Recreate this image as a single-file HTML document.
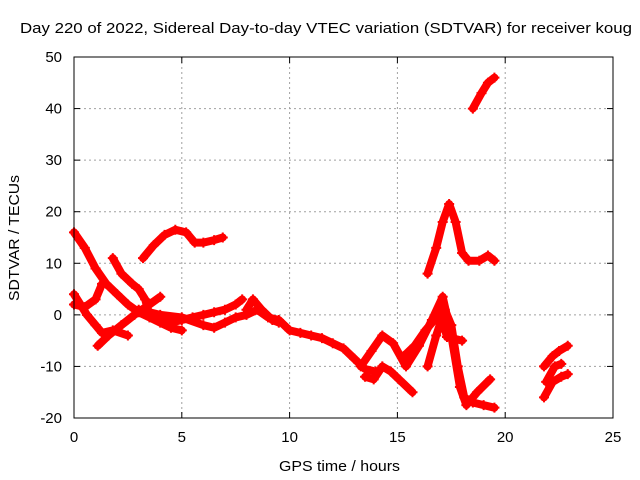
<!DOCTYPE html>
<html><head><meta charset="utf-8"><style>
body{margin:0;background:#fff}
svg{display:block;font-family:"Liberation Sans",sans-serif;font-size:15px}
</style></head><body>
<svg id="c" width="640" height="480">
<text x="20" y="33" textLength="612" lengthAdjust="spacingAndGlyphs">Day 220 of 2022, Sidereal Day-to-day VTEC variation (SDTVAR) for receiver koug</text>
<text transform="translate(19,238) rotate(-90)" text-anchor="middle" textLength="126" lengthAdjust="spacingAndGlyphs">SDTVAR / TECUs</text>
<text x="279" y="471" textLength="121" lengthAdjust="spacingAndGlyphs">GPS time / hours</text>
<g id="grid"></g><g id="marks"></g><g id="axes"></g>
</svg>
<script>
const xTicks=[0,5,10,15,20,25];
const yTicks=[-20,-10,0,10,20,30,40,50];
const trackA=[[0,16],[0.5,13],[1,9],[1.5,6],[2,4],[2.5,2],[3,0.5],[3.5,-0.5],[4,-1.5],[4.5,-2.5],[5,-3]];
const trackB=[[0,4],[0.3,2],[0.6,0],[1,-2],[1.3,-3.5],[1.8,-3],[2.5,-4]];
const trackC=[[0,2],[0.5,1.5],[1,3],[1.3,6]];
const trackD=[[1.1,-6],[1.6,-4],[2.2,-2],[2.8,0],[3.5,2],[4,3.5]];
const trackE=[[1.8,11],[2.2,8],[2.7,6],[3,5],[3.3,3],[3.5,0],[4,-1],[4.5,-1.5],[5,-1],[5.5,-0.5],[6,0],[6.5,0.5],[7,1],[7.5,2],[7.8,3]];
const trackF=[[3,1],[4,0],[5,-0.5],[6,-2],[6.5,-2.5],[7,-1.5],[7.5,-0.5],[8,0],[8.5,1],[9,-0.5],[9.5,-1],[10,-3],[10.5,-3.5],[11,-4],[11.5,-4.5],[12,-5.5],[12.5,-6.5],[13,-8.5],[13.5,-10.5],[14,-11]];
const trackG=[[8,1],[8.3,3],[8.7,1],[9.2,-1],[9.5,-1.5]];
const trackH=[[3.2,11],[3.7,13.5],[4.2,15.5],[4.7,16.5],[5.2,16],[5.6,14],[6,14],[6.5,14.5],[6.9,15]];
const trackI=[[13.3,-10],[13.8,-7],[14.3,-4],[14.8,-5.5],[15.4,-10],[16,-6],[16.6,-1],[17.1,3.5],[17.5,-4],[17.9,-14],[18.2,-17.5],[18.7,-15],[19.3,-12.5]];
const trackJ=[[13.5,-12],[13.9,-12.5],[14.3,-10],[14.7,-11],[15.1,-12.6],[15.7,-15]];
const trackK=[[15.3,-8],[15.8,-6],[16.3,-3],[17,0.4],[17.3,-4.3],[18,-5]];
const trackL=[[16.4,-10],[16.8,-4],[17.2,1],[17.5,-2],[17.8,-10],[18.1,-16],[18.5,-17],[19,-17.5],[19.5,-18]];
const trackM=[[16.4,8],[16.8,13],[17.1,18],[17.4,21.5],[17.7,18],[18,12],[18.3,10.5],[18.8,10.5],[19.2,11.5],[19.5,10.5]];
const trackN=[[18.5,40],[18.9,43],[19.2,45],[19.5,46]];
const trackO=[[21.8,-16],[22.2,-13],[22.6,-12],[22.9,-11.5]];
const trackP=[[21.8,-10],[22.2,-8],[22.5,-7],[22.9,-6]];
const trackQ=[[21.9,-13],[22.3,-10],[22.6,-9.5]];
const tracks=[trackA,trackB,trackC,trackD,trackE,trackF,trackG,trackH,trackI,trackJ,trackK,trackL,trackM,trackN,trackO,trackP,trackQ];

const L=74,R=613,T=57,B=418;
const X=h=>L+(h-0)/25*(R-L);
const Y=v=>B-(v+20)/70*(B-T);
const NS="http://www.w3.org/2000/svg";
function mk(t,a,p){const e=document.createElementNS(NS,t);for(const k in a)e.setAttribute(k,a[k]);p.appendChild(e);return e;}
const grid=document.getElementById('grid'),axes=document.getElementById('axes'),marks=document.getElementById('marks');
xTicks.forEach(t=>{
  const x=X(t);
  if(t>0&&t<25){const g=mk('line',{x1:x,x2:x,y1:T,y2:B,stroke:'#a0a0a0','stroke-dasharray':'2,3'},grid);
  
  }
  mk('line',{x1:x,x2:x,y1:B,y2:B-6,stroke:'#000'},axes);
  mk('line',{x1:x,x2:x,y1:T,y2:T+6,stroke:'#000'},axes);
  const tx=mk('text',{x:x,y:B+24,'text-anchor':'middle'},axes);tx.textContent=t;
  
  
});
yTicks.forEach(t=>{
  const y=Y(t);
  if(t>-20&&t<50){const g=mk('line',{x1:L,x2:R,y1:y,y2:y,stroke:'#a0a0a0','stroke-dasharray':'2,3'},grid);
  
  }
  mk('line',{x1:L,x2:L+6,y1:y,y2:y,stroke:'#000'},axes);
  mk('line',{x1:R,x2:R-6,y1:y,y2:y,stroke:'#000'},axes);
  const tx=mk('text',{x:L-12,y:y+5,'text-anchor':'end'},axes);tx.textContent=t;
  
  
});
const fr=mk('rect',{x:L,y:T,width:R-L,height:B-T,fill:'none',stroke:'#000'},axes);


tracks.forEach(tr=>{
  const pl=mk('polyline',{points:tr.map(p=>X(p[0])+','+Y(p[1])).join(' '),fill:'none',stroke:'#ff0000','stroke-width':8,'stroke-linejoin':'round','stroke-linecap':'round'},marks);
  
  
  tr.forEach(p=>{
    const x=X(p[0]),y=Y(p[1]);
    const m=mk('path',{d:`M${x-5},${y}H${x+5}M${x},${y-5}V${y+5}`,stroke:'#ff0000','stroke-width':2},marks);
    
    
  });
});
</script>
</body></html>
